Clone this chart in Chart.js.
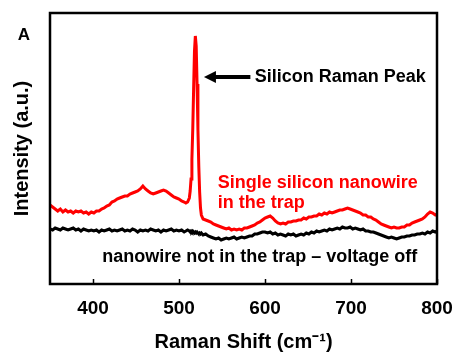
<!DOCTYPE html>
<html>
<head>
<meta charset="utf-8">
<script src="https://cdn.jsdelivr.net/npm/chart.js@4.4.1/dist/chart.umd.min.js"></script>
<style>
  html, body { margin: 0; padding: 0; background: #fff; }
  #wrap { width: 455px; height: 354px; }
</style>
</head>
<body>
<div id="wrap"><canvas id="c" width="455" height="354"></canvas></div>
<script>
// Raman shift (cm^-1) sampling points
const ramanShift = [
  350,353,356,359,362,365,368,371,374,377,380,383,386,389,392,395,398,401,404,407,
  410,413,416,419,422,425,428,431,434,437,440,443,446,449,452,455,458,461,464,467,
  470,473,476,479,482,485,488,491,494,497,500,503,506,
  508,510,512,513,514,515,516,517,518,519,520,521,522,523,524,525,526,528,531,
  534,537,540,543,546,549,552,555,558,561,564,567,570,573,576,579,582,585,588,591,
  594,597,600,603,606,609,612,615,618,621,624,627,630,633,636,639,642,645,648,651,
  654,657,660,663,666,669,672,675,678,681,684,687,690,693,696,699,702,705,708,711,
  714,717,720,723,726,729,732,735,738,741,744,747,750,753,756,759,762,765,768,771,
  774,777,780,783,786,789,792,795,798,800
];

// Single silicon nanowire held in the trap (a.u.)
const singleNanowire = [
  790,770,750,730,750,720,740,720,730,710,730,720,730,710,720,700,720,710,730,730,
  750,760,780,790,820,830,850,860,870,880,880,900,910,920,930,950,980,950,930,910,
  900,910,920,930,940,930,910,890,870,860,850,830,820,
  810,820,860,930,1050,1250,1550,1950,2330,2480,2380,2000,1550,1180,920,760,690,650,640,
  630,620,600,590,580,570,560,550,560,540,550,540,550,540,560,560,570,580,590,610,
  620,640,660,670,680,660,630,610,600,610,600,620,620,630,630,640,640,660,650,670,
  670,680,680,700,690,710,700,720,710,720,730,740,740,750,760,750,740,730,720,710,
  690,690,670,670,650,640,620,600,590,580,570,560,570,560,560,570,570,590,590,610,
  620,630,640,650,670,700,720,710,690,700
];

// No nanowire in the trap, voltage off (a.u.)
const noNanowire = [
  550,540,560,550,540,560,550,540,550,560,540,550,530,550,540,530,540,530,540,520,
  540,530,540,550,530,540,530,540,550,530,540,530,550,540,520,540,530,540,530,550,
  540,530,540,520,540,530,540,550,530,540,530,540,520,
  530,540,530,520,530,520,530,520,510,520,510,520,510,500,510,500,510,490,500,
  480,470,460,450,460,440,450,460,450,460,470,450,460,470,460,470,480,480,500,500,
  510,520,520,510,520,500,510,490,500,490,480,500,490,500,480,490,500,490,510,500,
  520,510,530,520,530,540,530,550,540,550,560,550,570,560,560,570,550,560,550,540,
  550,530,530,520,520,510,500,490,480,470,460,470,460,450,460,470,470,480,480,490,
  490,500,500,510,500,520,510,530,520,530
];

const xTicks = [400, 500, 600, 700, 800];

const FONT = "'Liberation Sans', Arial, Helvetica, sans-serif";

const toPoints = (ys) => ramanShift.map((x, i) => ({ x, y: ys[i] }));

// Frame around the plot area plus short inward tick marks on the bottom axis
const framePlugin = {
  id: 'frame',
  afterDatasetsDraw(chart) {
    const { ctx, chartArea: a, scales } = chart;
    ctx.save();
    ctx.strokeStyle = '#000';
    ctx.lineWidth = 1.5;
    xTicks.forEach(v => {
      const px = Math.round(scales.x.getPixelForValue(v)) + 0.5;
      ctx.beginPath();
      ctx.moveTo(px, a.bottom);
      ctx.lineTo(px, a.bottom - 5);
      ctx.stroke();
    });
    ctx.lineWidth = 2.5;
    ctx.strokeRect(a.left, a.top, a.right - a.left, a.bottom - a.top);
    ctx.restore();
  }
};

// Text labels and the arrow pointing at the silicon peak
const labelPlugin = {
  id: 'labels',
  afterDraw(chart) {
    const { ctx, scales: { x, y } } = chart;
    ctx.save();
    ctx.textBaseline = 'middle';

    // panel letter
    ctx.fillStyle = '#000';
    ctx.font = `bold 17px ${FONT}`;
    ctx.textAlign = 'center';
    ctx.fillText('A', 24, 35);

    // arrow
    const tipX = x.getPixelForValue(529), tailX = x.getPixelForValue(583);
    const ay = y.getPixelForValue(2070);
    ctx.strokeStyle = '#000';
    ctx.lineWidth = 4;
    ctx.beginPath();
    ctx.moveTo(tailX, ay);
    ctx.lineTo(tipX + 10, ay);
    ctx.stroke();
    ctx.beginPath();
    ctx.moveTo(tipX, ay);
    ctx.lineTo(tipX + 12, ay - 6);
    ctx.lineTo(tipX + 12, ay + 6);
    ctx.closePath();
    ctx.fill();

    ctx.textAlign = 'left';
    ctx.font = `bold 18px ${FONT}`;
    ctx.fillText('Silicon Raman Peak', x.getPixelForValue(588), ay);

    ctx.fillStyle = '#ff0000';
    ctx.fillText('Single silicon nanowire', x.getPixelForValue(545), y.getPixelForValue(1005));
    ctx.fillText('in the trap', x.getPixelForValue(545), y.getPixelForValue(810));

    ctx.fillStyle = '#000';
    ctx.textAlign = 'center';
    ctx.fillText('nanowire not in the trap \u2013 voltage off', x.getPixelForValue(594), y.getPixelForValue(265));
    ctx.restore();
  }
};

new Chart(document.getElementById('c'), {
  type: 'line',
  data: {
    datasets: [
      { label: 'Single silicon nanowire in the trap', data: toPoints(singleNanowire),
        borderColor: '#ff0000', borderWidth: 3, pointRadius: 0, tension: 0, fill: false },
      { label: 'nanowire not in the trap', data: toPoints(noNanowire),
        borderColor: '#000000', borderWidth: 3, pointRadius: 0, tension: 0, fill: false }
    ]
  },
  options: {
    responsive: false,
    animation: false,
    events: [],
    layout: { padding: { left: 0, right: 18, top: 13, bottom: 0 } },
    plugins: { legend: { display: false }, tooltip: { enabled: false } },
    scales: {
      x: {
        type: 'linear', min: 350, max: 800,
        afterBuildTicks(s) { s.ticks = xTicks.map(v => ({ value: v })); },
        ticks: { color: '#000', font: { family: FONT, size: 19, weight: 'bold' }, padding: 13, maxRotation: 0, autoSkip: false },
        grid: { display: false, drawTicks: false },
        border: { display: false },
        title: { display: true, text: 'Raman Shift (cm\u207B\u00B9)', color: '#000',
                 font: { family: FONT, size: 20, weight: 'bold' }, padding: { top: 0, bottom: 0 } },
        afterFit(s) { s.height = 70; s.paddingLeft = 0; s.paddingRight = 0; }
      },
      y: {
        min: 0, max: 2710,
        ticks: { display: false },
        grid: { display: false, drawTicks: false },
        border: { display: false },
        title: { display: true, text: 'Intensity (a.u.)', color: '#000',
                 font: { family: FONT, size: 20, weight: 'bold' }, padding: { top: 10, bottom: 0 } },
        afterFit(s) { s.width = 50; }
      }
    }
  },
  plugins: [framePlugin, labelPlugin]
});
</script>
</body>
</html>
